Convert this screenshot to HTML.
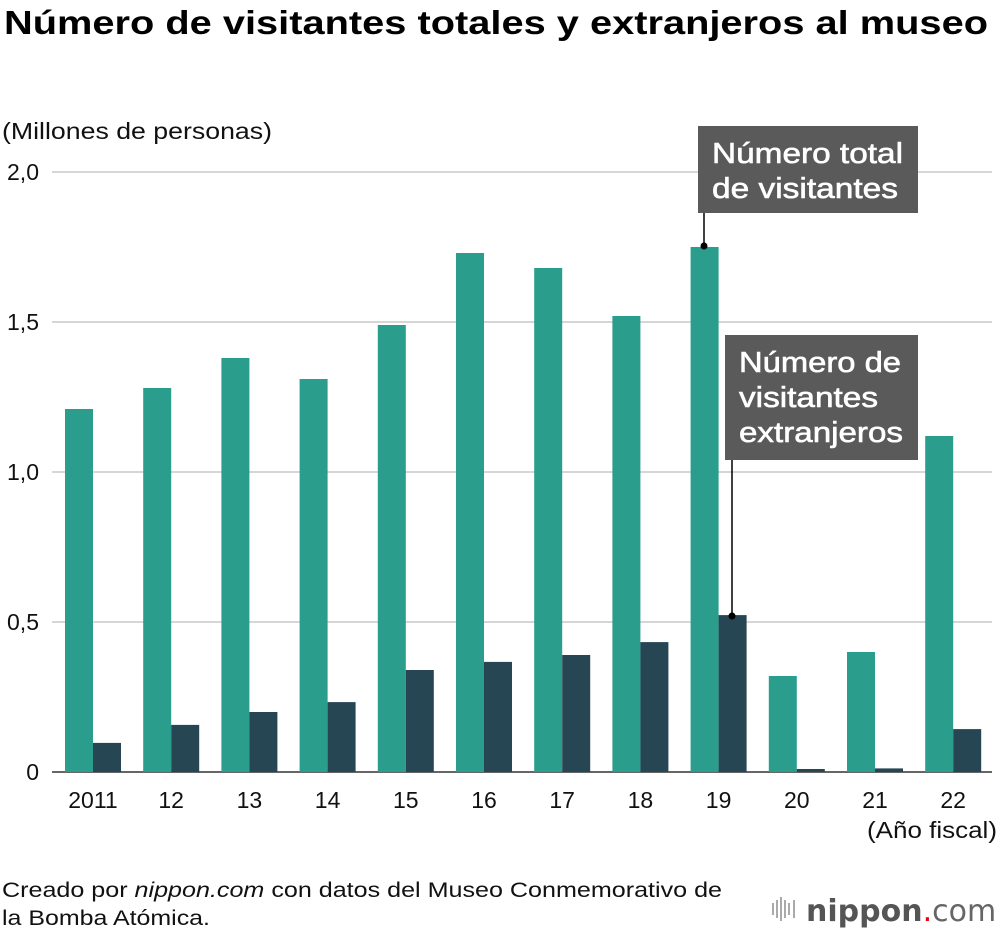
<!DOCTYPE html>
<html><head><meta charset="utf-8"><style>
body{margin:0;background:#fff;font-family:"Liberation Sans",sans-serif;}
#wrap{position:relative;width:1000px;height:932px;overflow:hidden;}
</style></head><body>
<div id="wrap">
<svg id="svg" width="1000" height="932" xmlns="http://www.w3.org/2000/svg">
<text x="4" y="34" font-size="33" font-weight="bold" fill="#000" textLength="984" lengthAdjust="spacingAndGlyphs">Número de visitantes totales y extranjeros al museo</text>
<text x="2" y="139" font-size="23" fill="#111" textLength="270" lengthAdjust="spacingAndGlyphs">(Millones de personas)</text>
<g id="grid"></g>
<g id="bars"></g>
<g id="xlabels"></g>
<text x="997" y="838" font-size="23" text-anchor="end" fill="#111" textLength="130" lengthAdjust="spacingAndGlyphs">(Año fiscal)</text>
<g stroke="#fff" stroke-width="0.6">
<rect x="698" y="126" width="220" height="87" fill="#5a5a5a" stroke="none"/>
<text x="712" y="163" font-size="29" fill="#fff" textLength="191" lengthAdjust="spacingAndGlyphs">Número total</text>
<text x="712" y="198" font-size="29" fill="#fff" textLength="186" lengthAdjust="spacingAndGlyphs">de visitantes</text>
<line x1="704" y1="213" x2="704" y2="246" stroke="#000" stroke-width="1.5"/>
<circle cx="704" cy="246" r="3.5" fill="#000" stroke="none"/>
</g>
<g stroke="#fff" stroke-width="0.6">
<rect x="725" y="335" width="193" height="125" fill="#5a5a5a" stroke="none"/>
<text x="739" y="372" font-size="29" fill="#fff" textLength="162" lengthAdjust="spacingAndGlyphs">Número de</text>
<text x="739" y="407" font-size="29" fill="#fff" textLength="139" lengthAdjust="spacingAndGlyphs">visitantes</text>
<text x="739" y="442" font-size="29" fill="#fff" textLength="164" lengthAdjust="spacingAndGlyphs">extranjeros</text>
<line x1="732" y1="460" x2="732" y2="616" stroke="#000" stroke-width="1.5"/>
<circle cx="732" cy="616" r="3.5" fill="#000" stroke="none"/>
</g>
<text x="2" y="897" font-size="21" fill="#111" textLength="720" lengthAdjust="spacingAndGlyphs">Creado por <tspan font-style="italic">nippon.com</tspan> con datos del Museo Conmemorativo de</text>
<text x="2" y="925" font-size="21" fill="#111" textLength="208" lengthAdjust="spacingAndGlyphs">la Bomba Atómica.</text>
<g>
<g fill="#aaa"><rect x="772" y="903" width="2" height="12"/><rect x="776" y="900" width="2" height="18"/><rect x="780" y="897" width="2" height="24"/><rect x="784" y="900" width="2" height="18"/><rect x="788" y="903" width="2" height="12"/><rect x="793" y="900" width="2" height="18"/></g>
<text x="806" y="921" font-size="30" fill="#555" font-family="DejaVu Sans, sans-serif"><tspan font-weight="bold">nippon</tspan><tspan fill="#e60012">.</tspan><tspan fill="#666">com</tspan></text>
</g>
</svg>
</div>
<script>
const years = ["2011","12","13","14","15","16","17","18","19","20","21","22"];
const totalVisitors = [1.21,1.28,1.38,1.31,1.49,1.73,1.68,1.52,1.75,0.32,0.40,1.12];
const foreignVisitors = [0.097,0.157,0.20,0.233,0.34,0.367,0.39,0.433,0.523,0.01,0.012,0.143];
const yTicks = [0,0.5,1.0,1.5,2.0];
const yTickLabels = ["0","0,5","1,0","1,5","2,0"];

const NS="http://www.w3.org/2000/svg";
const y0=772, pxPerUnit=300, gx0=65, gStep=78.2, bw=28;
function yScale(v){return y0 - v*pxPerUnit;}
function xScale(i){return gx0 + i*gStep;}
function mk(tag,attrs){const e=document.createElementNS(NS,tag);for(const k in attrs)e.setAttribute(k,attrs[k]);return e;}

const grid=document.getElementById('grid');
yTicks.forEach((t,i)=>{
  const y=yScale(t);
  const l=mk('line',{x1:52,x2:992,y1:y,y2:y,stroke:i===0?'#333':'#c8c8c8','stroke-width':1.5});
  
  
  grid.appendChild(l);
  const tx=mk('text',{x:39,y:y+8,'font-size':23,'text-anchor':'end',fill:'#111'});
  tx.textContent=yTickLabels[i];
  
  
  grid.appendChild(tx);
});

const bars=document.getElementById('bars');
const xl=document.getElementById('xlabels');
years.forEach((yr,i)=>{
  const x=xScale(i);
  const r1=mk('rect',{x:x,y:yScale(totalVisitors[i]),width:bw,height:totalVisitors[i]*pxPerUnit,fill:'#2a9d8d'});
  
  
  bars.appendChild(r1);
  const r2=mk('rect',{x:x+bw,y:yScale(foreignVisitors[i]),width:bw,height:foreignVisitors[i]*pxPerUnit,fill:'#264653'});
  
  
  bars.appendChild(r2);
  const t=mk('text',{x:x+bw,y:808,'font-size':23,'text-anchor':'middle',fill:'#111'});
  t.textContent=yr;
  
  
  xl.appendChild(t);
});
</script>
</body></html>
